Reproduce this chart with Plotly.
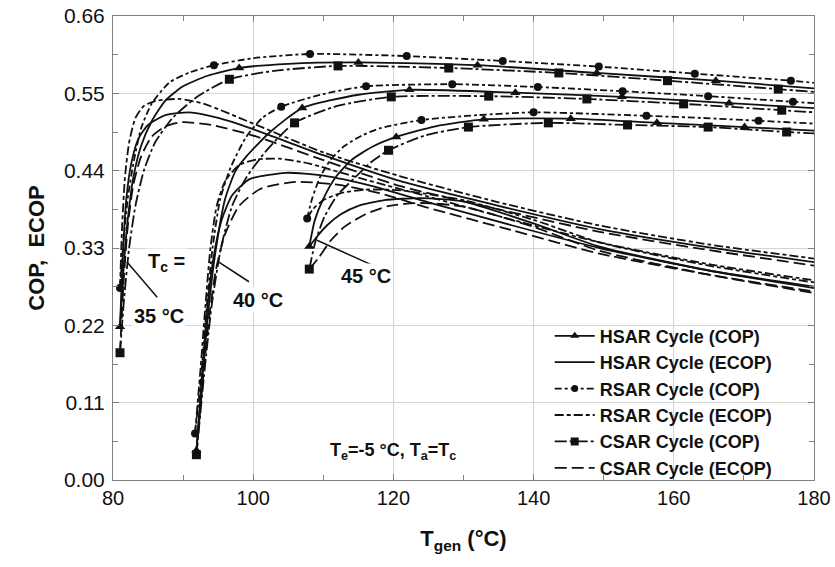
import plotly.graph_objects as go

# ---------------- data ----------------
# Tc = 35 C
RSAR35_COP_T = [81, 81.5, 82.1, 82.9, 84, 85.5, 88, 91, 94.4, 100, 108.1, 121.9, 135.6, 149.3, 163, 176.7, 180]
RSAR35_COP_V = [0.273, 0.34, 0.40, 0.45, 0.50, 0.535, 0.565, 0.580, 0.590, 0.600, 0.606, 0.603, 0.596, 0.588, 0.578, 0.568, 0.565]
RSAR35_COP_M = [0, 8, 10, 11, 12, 13, 14, 15]
HSAR35_COP_T = [81, 81.5, 82.1, 82.9, 84, 85.5, 87.5, 90, 93.5, 98, 105, 115, 132, 149, 166, 180]
HSAR35_COP_V = [0.218, 0.30, 0.37, 0.43, 0.475, 0.51, 0.54, 0.56, 0.575, 0.586, 0.592, 0.594, 0.590, 0.579, 0.568, 0.557]
HSAR35_COP_M = [0, 9, 11, 12, 13, 14]
CSAR35_COP_T = [81, 81.6, 82.3, 83.2, 84.4, 86, 88.5, 92, 96.6, 103, 112.1, 127.9, 143.6, 159.1, 174.9, 180]
CSAR35_COP_V = [0.181, 0.26, 0.33, 0.39, 0.44, 0.48, 0.515, 0.545, 0.570, 0.582, 0.589, 0.586, 0.579, 0.568, 0.556, 0.552]
CSAR35_COP_M = [0, 8, 10, 11, 12, 13, 14]

RSAR35_ECOP_T = [81, 81.3, 81.7, 82.3, 83.2, 84.4, 86, 89.4, 93, 100, 110, 121, 135, 149.4, 165, 180]
RSAR35_ECOP_V = [0.273, 0.36, 0.43, 0.48, 0.515, 0.532, 0.539, 0.542, 0.535, 0.507, 0.466, 0.432, 0.395, 0.362, 0.335, 0.315]
HSAR35_ECOP_T = [81, 81.4, 81.9, 82.6, 83.6, 85, 87.5, 90.9, 95, 100, 110, 121, 135, 149.4, 165, 180]
HSAR35_ECOP_V = [0.218, 0.32, 0.40, 0.45, 0.485, 0.505, 0.519, 0.523, 0.515, 0.499, 0.462, 0.425, 0.390, 0.357, 0.331, 0.310]
CSAR35_ECOP_T = [81, 81.5, 82.1, 82.9, 84, 85.5, 87.5, 89.9, 94, 100, 110, 121, 135, 149.4, 165, 180]
CSAR35_ECOP_V = [0.181, 0.28, 0.36, 0.42, 0.46, 0.488, 0.503, 0.509, 0.505, 0.490, 0.455, 0.418, 0.385, 0.353, 0.327, 0.305]

# Tc = 40 C
RSAR40_COP_T = [91.7, 92.6, 93.4, 94.2, 95.3, 96.8, 99, 101.3, 104, 110, 116.1, 128.4, 140.6, 152.7, 164.9, 177, 180]
RSAR40_COP_V = [0.066, 0.15, 0.25, 0.33, 0.40, 0.445, 0.488, 0.515, 0.531, 0.549, 0.560, 0.563, 0.559, 0.553, 0.546, 0.538, 0.536]
RSAR40_COP_M = [0, 8, 10, 11, 12, 13, 14, 15]
HSAR40_COP_T = [91.9, 92.8, 93.7, 94.7, 96, 97.5, 99, 102.3, 107, 115, 122.3, 137.4, 152.6, 167.9, 180]
HSAR40_COP_V = [0.042, 0.15, 0.25, 0.33, 0.40, 0.44, 0.46, 0.494, 0.529, 0.548, 0.555, 0.551, 0.545, 0.536, 0.529]
HSAR40_COP_M = [0, 8, 10, 11, 12, 13]
CSAR40_COP_T = [91.9, 93, 94.1, 95.4, 97, 99, 102, 105.9, 112, 119.7, 133.6, 147.6, 161.4, 175.4, 180]
CSAR40_COP_V = [0.036, 0.15, 0.25, 0.33, 0.39, 0.43, 0.47, 0.508, 0.532, 0.545, 0.546, 0.542, 0.535, 0.526, 0.523]
CSAR40_COP_M = [0, 7, 9, 10, 11, 12, 13]

RSAR40_ECOP_T = [91.7, 92.5, 93.2, 93.9, 94.8, 96, 98, 100.5, 103.7, 108, 115, 125, 137, 149.4, 165, 180]
RSAR40_ECOP_V = [0.066, 0.16, 0.25, 0.33, 0.39, 0.425, 0.448, 0.456, 0.457, 0.450, 0.430, 0.403, 0.370, 0.338, 0.307, 0.284]
HSAR40_ECOP_T = [91.9, 92.7, 93.5, 94.4, 95.5, 97, 99.5, 104.7, 110, 117, 125, 137, 149.4, 165, 180]
HSAR40_ECOP_V = [0.042, 0.15, 0.25, 0.32, 0.37, 0.405, 0.428, 0.437, 0.433, 0.418, 0.395, 0.362, 0.330, 0.298, 0.275]
CSAR40_ECOP_T = [91.9, 92.8, 93.7, 94.7, 96, 98, 101, 106, 112, 118, 125, 137, 149.4, 165, 180]
CSAR40_ECOP_V = [0.036, 0.14, 0.23, 0.30, 0.35, 0.39, 0.414, 0.424, 0.420, 0.408, 0.387, 0.355, 0.322, 0.292, 0.268]

# Tc = 45 C
RSAR45_COP_T = [107.7, 108.4, 109.5, 111, 113, 115.5, 118, 124, 132, 140, 148, 156.1, 164, 172.1, 180]
RSAR45_COP_V = [0.372, 0.40, 0.43, 0.455, 0.475, 0.49, 0.500, 0.512, 0.519, 0.523, 0.521, 0.518, 0.515, 0.511, 0.507]
RSAR45_COP_M = [0, 7, 9, 11, 13]
HSAR45_COP_T = [108, 108.8, 110, 111.7, 114, 117, 120.4, 126, 132.9, 145.3, 157.6, 170.1, 180]
HSAR45_COP_V = [0.332, 0.37, 0.40, 0.43, 0.455, 0.474, 0.488, 0.503, 0.513, 0.514, 0.508, 0.502, 0.497]
HSAR45_COP_M = [0, 6, 8, 9, 10, 11]
CSAR45_COP_T = [108, 108.9, 110.2, 112, 114.5, 116.8, 119.3, 124.5, 130.7, 142.1, 153.4, 164.9, 176.1, 180]
CSAR45_COP_V = [0.300, 0.34, 0.375, 0.405, 0.43, 0.452, 0.469, 0.49, 0.502, 0.508, 0.505, 0.502, 0.495, 0.493]
CSAR45_COP_M = [0, 6, 8, 9, 10, 11, 12]

RSAR45_ECOP_T = [107.7, 108.5, 110, 112.5, 116, 121, 130, 140, 149.4, 165, 180]
RSAR45_ECOP_V = [0.372, 0.385, 0.398, 0.408, 0.413, 0.412, 0.398, 0.370, 0.338, 0.305, 0.281]
HSAR45_ECOP_T = [108, 109, 110.5, 112.5, 115, 118.7, 124, 130, 140, 149.4, 165, 180]
HSAR45_ECOP_V = [0.332, 0.345, 0.362, 0.378, 0.390, 0.398, 0.401, 0.396, 0.365, 0.332, 0.298, 0.273]
CSAR45_ECOP_T = [108, 109.4, 111, 113, 116, 119.4, 124, 130, 140, 149.4, 165, 180]
CSAR45_ECOP_V = [0.300, 0.317, 0.340, 0.360, 0.378, 0.390, 0.394, 0.389, 0.360, 0.326, 0.292, 0.266]

X_TICKS = [80, 100, 120, 140, 160, 180]
Y_TICKS = [0.00, 0.11, 0.22, 0.33, 0.44, 0.55, 0.66]

LEGEND_NAMES = ["HSAR Cycle (COP)", "HSAR Cycle (ECOP)", "RSAR Cycle (COP)",
                "RSAR Cycle (ECOP)", "CSAR Cycle (COP)", "CSAR Cycle (ECOP)"]

# ---------------- styles ----------------
BLACK = "#111111"
STY = {
    "HSAR_COP": dict(dash="solid", symbol="triangle-up", size=9),
    "HSAR_ECOP": dict(dash="solid", symbol=None, size=0),
    "RSAR_COP": dict(dash="7px,3px,3px,3px", symbol="circle", size=8),
    "RSAR_ECOP": dict(dash="9px,3px,4px,3px", symbol=None, size=0),
    "CSAR_COP": dict(dash="12px,3px,3px,3px", symbol="square", size=9),
    "CSAR_ECOP": dict(dash="12px,5px", symbol=None, size=0),
}

curves = [
    ("HSAR_COP", HSAR35_COP_T, HSAR35_COP_V, HSAR35_COP_M),
    ("RSAR_COP", RSAR35_COP_T, RSAR35_COP_V, RSAR35_COP_M),
    ("CSAR_COP", CSAR35_COP_T, CSAR35_COP_V, CSAR35_COP_M),
    ("HSAR_ECOP", HSAR35_ECOP_T, HSAR35_ECOP_V, None),
    ("RSAR_ECOP", RSAR35_ECOP_T, RSAR35_ECOP_V, None),
    ("CSAR_ECOP", CSAR35_ECOP_T, CSAR35_ECOP_V, None),
    ("HSAR_COP", HSAR40_COP_T, HSAR40_COP_V, HSAR40_COP_M),
    ("RSAR_COP", RSAR40_COP_T, RSAR40_COP_V, RSAR40_COP_M),
    ("CSAR_COP", CSAR40_COP_T, CSAR40_COP_V, CSAR40_COP_M),
    ("HSAR_ECOP", HSAR40_ECOP_T, HSAR40_ECOP_V, None),
    ("RSAR_ECOP", RSAR40_ECOP_T, RSAR40_ECOP_V, None),
    ("CSAR_ECOP", CSAR40_ECOP_T, CSAR40_ECOP_V, None),
    ("HSAR_COP", HSAR45_COP_T, HSAR45_COP_V, HSAR45_COP_M),
    ("RSAR_COP", RSAR45_COP_T, RSAR45_COP_V, RSAR45_COP_M),
    ("CSAR_COP", CSAR45_COP_T, CSAR45_COP_V, CSAR45_COP_M),
    ("HSAR_ECOP", HSAR45_ECOP_T, HSAR45_ECOP_V, None),
    ("RSAR_ECOP", RSAR45_ECOP_T, RSAR45_ECOP_V, None),
    ("CSAR_ECOP", CSAR45_ECOP_T, CSAR45_ECOP_V, None),
]

fig = go.Figure()
for key, xs, ys, midx in curves:
    s = STY[key]
    fig.add_trace(go.Scatter(x=xs, y=ys, mode="lines", showlegend=False,
                             line=dict(color=BLACK, width=1.8, dash=s["dash"],
                                       shape="spline", smoothing=0.6),
                             hoverinfo="skip"))
    if midx:
        fig.add_trace(go.Scatter(x=[xs[i] for i in midx], y=[ys[i] for i in midx],
                                 mode="markers", showlegend=False,
                                 marker=dict(color=BLACK, symbol=s["symbol"], size=s["size"]),
                                 hoverinfo="skip"))

legend_keys = ["HSAR_COP", "HSAR_ECOP", "RSAR_COP", "RSAR_ECOP", "CSAR_COP", "CSAR_ECOP"]
for key, name in zip(legend_keys, LEGEND_NAMES):
    s = STY[key]
    fig.add_trace(go.Scatter(x=[None], y=[None], name=name,
                             mode="lines+markers" if s["symbol"] else "lines",
                             line=dict(color=BLACK, width=1.8, dash=s["dash"]),
                             marker=dict(color=BLACK, symbol=s["symbol"] or "circle", size=(s["size"] - 1) if s["size"] else 1)))

FONT = "Liberation Sans, Arial, sans-serif"

# annotations
ann = [
    dict(x=87.6, y=0.310, text="<b>T<sub>c</sub> =</b>"),
    dict(x=86.6, y=0.233, text="<b>35 °C</b>"),
    dict(x=100.7, y=0.256, text="<b>40 °C</b>"),
    dict(x=116.1, y=0.290, text="<b>45 °C</b>"),
]
for a in ann:
    fig.add_annotation(x=a["x"], y=a["y"], text=a["text"], showarrow=False,
                       font=dict(family=FONT, size=20, color=BLACK), bgcolor="white")
fig.add_annotation(x=110.6, y=0.04, xanchor="left", text="<b>T<sub>e</sub>=-5 °C, T<sub>a</sub>=T<sub>c</sub></b>",
                   showarrow=False, font=dict(family=FONT, size=18, color=BLACK))

# leader lines
for x0, y0, x1, y1 in [(82.0, 0.310, 86.3, 0.260), (95.1, 0.310, 99.4, 0.282), (109.1, 0.341, 116.9, 0.306)]:
    fig.add_shape(type="line", x0=x0, y0=y0, x1=x1, y1=y1, line=dict(color=BLACK, width=1.5))

axis_common = dict(showline=True, linecolor="#808080", linewidth=1, mirror="ticks",
                   ticks="inside", ticklen=6, tickcolor="#808080", automargin=False,
                   gridcolor="#d4d4d4", gridwidth=1, zeroline=False)

fig.update_xaxes(range=[80, 180], tickvals=X_TICKS, **axis_common,
                 tickfont=dict(family=FONT, size=20, color=BLACK),
                 minor=dict(dtick=10, ticks="inside", ticklen=5, tickcolor="#808080", showgrid=False),
                 title=dict(text="<b>T<sub>gen</sub> (°C)</b>", font=dict(family=FONT, size=22, color=BLACK), standoff=22))
fig.update_yaxes(range=[0, 0.66], tickvals=Y_TICKS, tickformat=".2f", **axis_common,
                 tickfont=dict(family=FONT, size=21, color=BLACK), ticklabelstandoff=3,
                 minor=dict(dtick=0.055, ticks="inside", ticklen=5, tickcolor="#808080", showgrid=False),
                 title=dict(text="<b>COP,  ECOP</b>", font=dict(family=FONT, size=22, color=BLACK), standoff=13))

fig.update_layout(width=835, height=567, margin=dict(l=113, r=21, t=16, b=87),
                  plot_bgcolor="white", paper_bgcolor="white",
                  legend=dict(x=0.623, y=0.35, xanchor="left", yanchor="top", bgcolor="rgba(0,0,0,0)",
                              font=dict(family=FONT, size=18, color=BLACK, weight="bold"), tracegroupgap=0,
                              itemwidth=40))

fig.write_html("out.html", config={"displayModeBar": False},
               post_script="document.body.style.margin='0';document.body.style.overflow='hidden';")
